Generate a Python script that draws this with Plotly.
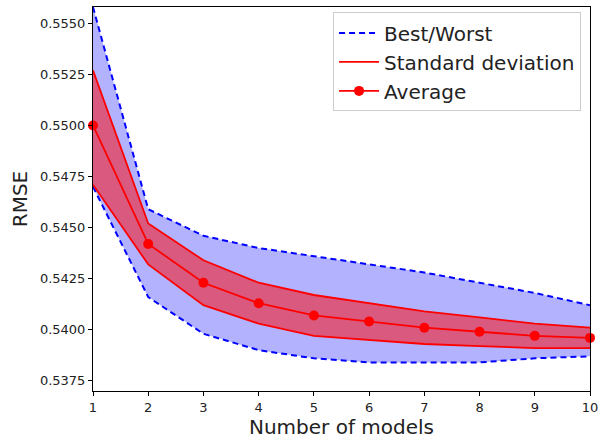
import plotly.graph_objects as go

n_models = [1, 2, 3, 4, 5, 6, 7, 8, 9, 10]
worst = [0.5558, 0.5459, 0.5446, 0.5440, 0.5436, 0.5432, 0.5428, 0.5423, 0.5418, 0.5412]
best = [0.5470, 0.5416, 0.5398, 0.5390, 0.5386, 0.5384, 0.5384, 0.5384, 0.5386, 0.5387]
std_upper = [0.5527, 0.5452, 0.5434, 0.5423, 0.5417, 0.5413, 0.5409, 0.5406, 0.5403, 0.5401]
average = [0.5500, 0.5442, 0.5423, 0.5413, 0.5407, 0.5404, 0.5401, 0.5399, 0.5397, 0.5396]
std_lower = [0.5471, 0.5432, 0.5412, 0.5403, 0.5397, 0.5395, 0.5393, 0.5392, 0.5391, 0.5391]
y_ticks = [0.5375, 0.5400, 0.5425, 0.5450, 0.5475, 0.5500, 0.5525, 0.5550]

BLUE = "#0000ff"
RED = "#ff0000"

fig = go.Figure()
# blue band
fig.add_trace(go.Scatter(x=n_models, y=worst, mode="lines", line=dict(width=0),
                         showlegend=False, hoverinfo="skip"))
fig.add_trace(go.Scatter(x=n_models, y=best, mode="lines", line=dict(width=0),
                         fill="tonexty", fillcolor="rgba(0,0,255,0.3)",
                         showlegend=False, hoverinfo="skip"))
# red band
fig.add_trace(go.Scatter(x=n_models, y=std_upper, mode="lines", line=dict(width=0),
                         showlegend=False, hoverinfo="skip"))
fig.add_trace(go.Scatter(x=n_models, y=std_lower, mode="lines", line=dict(width=0),
                         fill="tonexty", fillcolor="rgba(255,0,0,0.5)",
                         showlegend=False, hoverinfo="skip"))
# lines
fig.add_trace(go.Scatter(x=n_models, y=worst, mode="lines", name="Best/Worst",
                         line=dict(color=BLUE, width=2, dash="6px,4px"), legendgroup="bw"))
fig.add_trace(go.Scatter(x=n_models, y=best, mode="lines", name="Best/Worst",
                         line=dict(color=BLUE, width=2, dash="6px,4px"), legendgroup="bw",
                         showlegend=False))
fig.add_trace(go.Scatter(x=n_models, y=std_upper, mode="lines", name="Standard deviation",
                         line=dict(color=RED, width=1.8), legendgroup="sd"))
fig.add_trace(go.Scatter(x=n_models, y=std_lower, mode="lines", name="Standard deviation",
                         line=dict(color=RED, width=1.8), legendgroup="sd", showlegend=False))
fig.add_trace(go.Scatter(x=n_models, y=average, mode="lines+markers", name="Average",
                         line=dict(color=RED, width=1.8),
                         marker=dict(color=RED, size=10), cliponaxis=False))

axis_common = dict(
    showline=True, linecolor="black", linewidth=1, mirror=True,
    ticks="outside", ticklen=4, tickcolor="black", showgrid=False, zeroline=False,
    tickfont=dict(family="DejaVu Sans", size=13, color="#222222"),
)

fig.update_layout(
    width=603, height=441,
    margin=dict(l=93, r=13, t=7, b=50),
    plot_bgcolor="white", paper_bgcolor="white",
    font=dict(family="DejaVu Sans", color="#222222"),
    xaxis=dict(range=[1, 10], tickvals=n_models, ticktext=[str(v) for v in n_models],
               title=dict(text="Number of models", font=dict(size=20, color="#222222"), standoff=6),
               automargin=False, **axis_common),
    yaxis=dict(range=[0.5370, 0.5558], tickvals=y_ticks,
               ticktext=[f"{v:.4f}" for v in y_ticks],
               title=dict(text="RMSE", font=dict(size=20, color="#222222"), standoff=6),
               automargin=False, **axis_common),
    legend=dict(x=0.982, y=0.986, xanchor="right", yanchor="top",
                bgcolor="rgba(255,255,255,0.8)", bordercolor="#cccccc", borderwidth=1,
                font=dict(size=20, family="DejaVu Sans", color="#222222"),
                itemwidth=40, tracegroupgap=0),
)

fig.write_html("out.html", config={"displayModeBar": False},
               post_script="document.body.style.margin='0';")
